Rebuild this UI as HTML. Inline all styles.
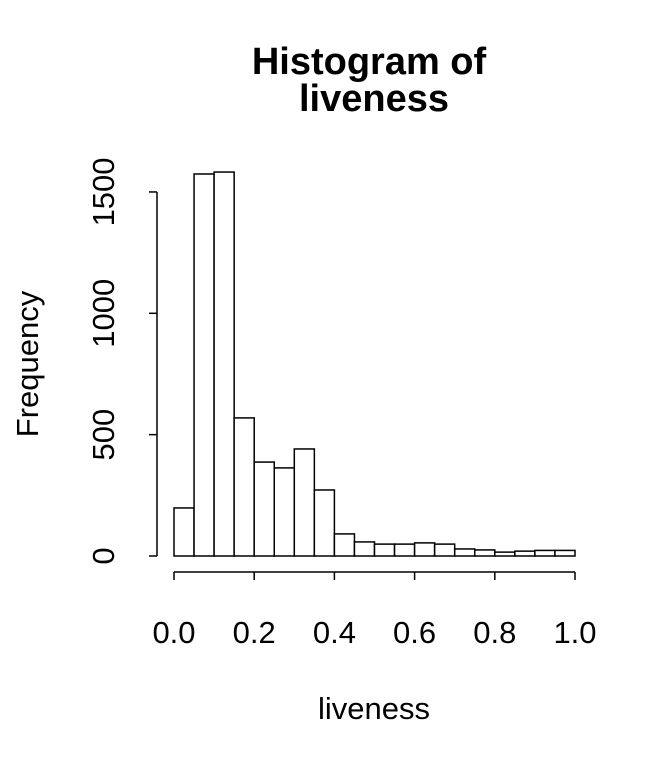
<!DOCTYPE html>
<html><head><meta charset="utf-8"><style>
body{margin:0;background:#fff}
svg text{font-family:"Liberation Sans",Arial,sans-serif;fill:#000}
</style></head><body>
<svg id="c" width="672" height="768">
<text x="369" y="74" font-size="38" font-weight="bold" text-anchor="middle">Histogram of</text>
<text x="374" y="111" font-size="38" font-weight="bold" text-anchor="middle">liveness</text>
<text transform="translate(38,364) rotate(-90)" font-size="31" text-anchor="middle">Frequency</text>
<text x="374" y="719" font-size="31" text-anchor="middle">liveness</text>
<g id="bars"></g>
<g id="axes"></g>
</svg>
<script>
const binStarts=[0,0.05,0.1,0.15,0.2,0.25,0.3,0.35,0.4,0.45,0.5,0.55,0.6,0.65,0.7,0.75,0.8,0.85,0.9,0.95];
const counts=[198,1574,1582,569,387,363,441,272,91,58,49,49,54,49,29,25,16,20,23,23];
const xTicks=[0,0.2,0.4,0.6,0.8,1.0];
const xTickLabels=["0.0","0.2","0.4","0.6","0.8","1.0"];
const yTicks=[0,500,1000,1500];
const binWidth=0.05;
const NS="http://www.w3.org/2000/svg";
const X=v=>174+v*401, Y=v=>556-v*0.2427;
const bars=document.getElementById('bars'),axes=document.getElementById('axes');
function mk(tag,a,parent){const e=document.createElementNS(NS,tag);for(const k in a)e.setAttribute(k,a[k]);parent.appendChild(e);return e;}
binStarts.forEach((s,i)=>{
 const r=mk('rect',{x:X(s),y:Y(counts[i]),width:X(s+binWidth)-X(s),height:Y(0)-Y(counts[i]),fill:'#fff',stroke:'#000','stroke-width':1.5},bars);
 
 
});
mk('line',{x1:X(0),x2:X(1),y1:572,y2:572,stroke:'#000','stroke-width':1.5},axes);
xTicks.forEach((t,i)=>{
 mk('line',{x1:X(t),x2:X(t),y1:572,y2:580,stroke:'#000','stroke-width':1.5},axes);
 const tx=mk('text',{x:X(t),y:643,'font-size':31,'text-anchor':'middle'},axes);
 tx.textContent=xTickLabels[i];
 
 
});
mk('line',{x1:157,x2:157,y1:Y(1500),y2:Y(0),stroke:'#000','stroke-width':1.5},axes);
yTicks.forEach(t=>{
 mk('line',{x1:149,x2:157,y1:Y(t),y2:Y(t),stroke:'#000','stroke-width':1.5},axes);
 const tx=mk('text',{transform:`translate(114,${Y(t)}) rotate(-90)`,'font-size':31,'text-anchor':'middle'},axes);
 tx.textContent=String(t);
 
 
});
</script>
</body></html>
